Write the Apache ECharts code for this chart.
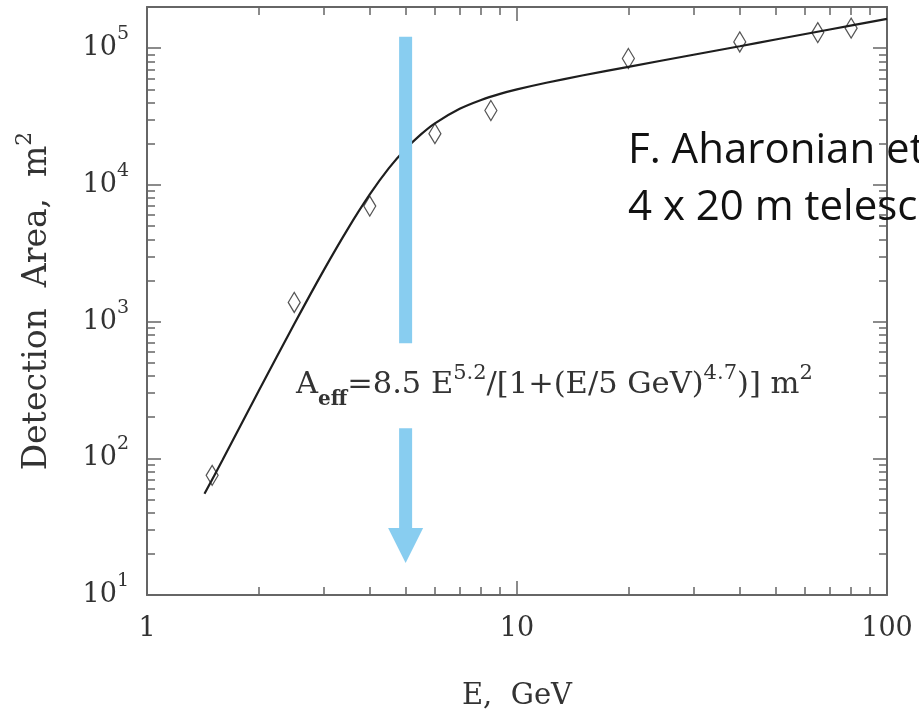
<!DOCTYPE html>
<html>
<head>
<meta charset="utf-8">
<script src="https://cdn.jsdelivr.net/npm/echarts@6/dist/echarts.min.js"></script>
<style>
  html, body { margin: 0; padding: 0; background: #ffffff; }
  #chart { width: 919px; height: 712px; }
</style>
</head>
<body>
<div id="chart"></div>
<script>
// Measured detection area (diamonds), energy in GeV, area in m^2
const measEnergy = [1.5, 2.5, 4, 6, 8.5, 20, 40, 65, 80];
const measArea = [75, 1380, 7000, 23700, 35000, 84000, 111000, 130000, 140000];

// Effective-area curve A_eff = 8.5 E^5.2 / [1 + (E/5 GeV)^4.7] m^2, tabulated
const fitEnergy = [1.43, 1.6, 2, 2.5, 3, 3.5, 4, 4.5, 5, 5.5, 6, 7, 8, 9, 10, 12, 15, 20, 30, 40, 50, 70, 100];
const fitArea = [55, 97, 308, 960, 2360, 4830, 8510, 13200, 18300, 23400, 28200, 36000, 41800, 46300, 49900, 55800, 63100, 73000, 89500, 103300, 115700, 137000, 163900];

// Threshold marker at E = 5 GeV (shaft pieces and arrow head, in data units)
const thresholdEnergy = 5;
const upperShaft = [121000, 693];
const lowerShaft = [166, 30];
const arrowHeadArea = 23;

// Tick values
const xMajorTicks = [1, 10, 100];
const xMinorTicks = [2, 3, 4, 5, 6, 7, 8, 9, 20, 30, 40, 50, 60, 70, 80, 90];
const yMajorTicks = [10, 100, 1000, 10000, 100000];
const yMinorTicks = [20, 30, 40, 50, 60, 70, 80, 90,
  200, 300, 400, 500, 600, 700, 800, 900,
  2000, 3000, 4000, 5000, 6000, 7000, 8000, 9000,
  20000, 30000, 40000, 50000, 60000, 70000, 80000, 90000];

const serif = 'DejaVu Serif';
const frameColor = '#666666';
const textColor = '#333333';
const arrowColor = '#88CDF0';

const chart = echarts.init(document.getElementById('chart'), null, { renderer: 'canvas' });

function xAxisPair(position) {
  const isBottom = position === 'bottom';
  return [
    {
      type: 'log', logBase: 10, min: 1, max: 100, position: position,
      axisLine: { show: true, onZero: false, lineStyle: { color: frameColor, width: 2 } },
      axisTick: { show: true, inside: true, length: 14, customValues: xMajorTicks,
        lineStyle: { color: frameColor, width: 1.5 } },
      axisLabel: { show: isBottom, customValues: xMajorTicks, margin: 19,
        fontFamily: serif, fontSize: 27, lineHeight: 30, color: textColor,
        formatter: v => String(Math.round(v)) },
      splitLine: { show: false },
      name: isBottom ? 'E,  GeV' : '',
      nameLocation: 'middle', nameGap: 85,
      nameTextStyle: { fontFamily: serif, fontSize: 29, color: textColor, lineHeight: 32 }
    },
    {
      type: 'log', logBase: 10, min: 1, max: 100, position: position,
      axisLine: { show: false },
      axisTick: { show: true, inside: true, length: 8, customValues: xMinorTicks,
        lineStyle: { color: frameColor, width: 1.5 } },
      axisLabel: { show: false },
      splitLine: { show: false }
    }
  ];
}

function yAxisPair(position) {
  const isLeft = position === 'left';
  return [
    {
      type: 'log', logBase: 10, min: 10, max: 200000, position: position,
      axisLine: { show: true, onZero: false, lineStyle: { color: frameColor, width: 2 } },
      axisTick: { show: true, inside: true, length: 14, customValues: yMajorTicks,
        lineStyle: { color: frameColor, width: 1.5 } },
      axisLabel: { show: isLeft, customValues: yMajorTicks, margin: 18,
        formatter: v => '{b|10}{s|' + Math.round(Math.log10(v)) + '}',
        rich: {
          b: { fontFamily: serif, fontSize: 27, lineHeight: 30, color: textColor },
          s: { fontFamily: serif, fontSize: 19, lineHeight: 20, color: textColor, padding: [0, 0, 28, 0] }
        } },
      splitLine: { show: false },
      name: isLeft ? '{b|Detection  Area,  m}{s|2}' : '',
      nameLocation: 'middle', nameGap: 92,
      nameTextStyle: {
        rich: {
          b: { fontFamily: serif, fontSize: 33, lineHeight: 36, color: textColor },
          s: { fontFamily: serif, fontSize: 22, lineHeight: 24, color: textColor, padding: [0, 0, 24, 0] }
        }
      }
    },
    {
      type: 'log', logBase: 10, min: 10, max: 200000, position: position,
      axisLine: { show: false },
      axisTick: { show: true, inside: true, length: 8, customValues: yMinorTicks,
        lineStyle: { color: frameColor, width: 1.5 } },
      axisLabel: { show: false },
      splitLine: { show: false }
    }
  ];
}

const option = {
  backgroundColor: '#ffffff',
  animation: false,
  grid: { left: 147, right: 32, top: 7, bottom: 117, containLabel: false, outerBoundsMode: 'none' },
  xAxis: [...xAxisPair('bottom'), ...xAxisPair('top')],
  yAxis: [...yAxisPair('left'), ...yAxisPair('right')],
  series: [
    {
      name: 'A_eff fit', type: 'line', xAxisIndex: 0, yAxisIndex: 0,
      data: fitEnergy.map((e, i) => [e, fitArea[i]]),
      smooth: 0.3, showSymbol: false,
      lineStyle: { color: '#1e1e1e', width: 2.2 }
    },
    {
      name: 'measured', type: 'scatter', xAxisIndex: 0, yAxisIndex: 0,
      data: measEnergy.map((e, i) => [e, measArea[i]]),
      symbol: 'diamond', symbolSize: [12, 20],
      itemStyle: { color: 'rgba(255,255,255,0)', borderColor: '#555555', borderWidth: 1.3, opacity: 1 }
    },
    {
      name: 'threshold upper', type: 'line', xAxisIndex: 0, yAxisIndex: 0,
      data: upperShaft.map(a => [thresholdEnergy, a]),
      showSymbol: false, lineStyle: { color: arrowColor, width: 13, cap: 'butt' }
    },
    {
      name: 'threshold lower', type: 'line', xAxisIndex: 0, yAxisIndex: 0,
      data: lowerShaft.map(a => [thresholdEnergy, a]),
      showSymbol: false, lineStyle: { color: arrowColor, width: 13, cap: 'butt' }
    },
    {
      name: 'threshold head', type: 'scatter', xAxisIndex: 0, yAxisIndex: 0,
      data: [[thresholdEnergy, arrowHeadArea]],
      symbol: 'triangle', symbolSize: [35, 35], symbolRotate: 180,
      itemStyle: { color: arrowColor, opacity: 1 }
    }
  ],
  graphic: [
    {
      type: 'text', x: 296, y: 368, z: 10,
      style: {
        text: '{b|A}{sub|eff}{b|=8.5 E}{sup|5.2}{b|/[1+(E/5 GeV)}{sup|4.7}{b|)] m}{sup|2}',
        verticalAlign: 'top',
        rich: {
          b: { fontFamily: serif, fontSize: 30.5, lineHeight: 34, fill: textColor },
          sup: { fontFamily: serif, fontSize: 21, lineHeight: 22, fill: textColor, padding: [0, 0, 22, 0] },
          sub: { fontFamily: serif, fontSize: 20, fontWeight: 'bold', lineHeight: 22, fill: textColor, padding: [30, 0, 0, 0] }
        }
      }
    },
    {
      type: 'text', x: 628, y: 123, z: 10,
      style: {
        text: 'F. Aharonian et al.\n4 x 20 m telescopes',
        fontFamily: 'Open Sans', fontSize: 42, lineHeight: 57,
        fill: '#111111', verticalAlign: 'top'
      }
    }
  ]
};

chart.setOption(option);
</script>
</body>
</html>
